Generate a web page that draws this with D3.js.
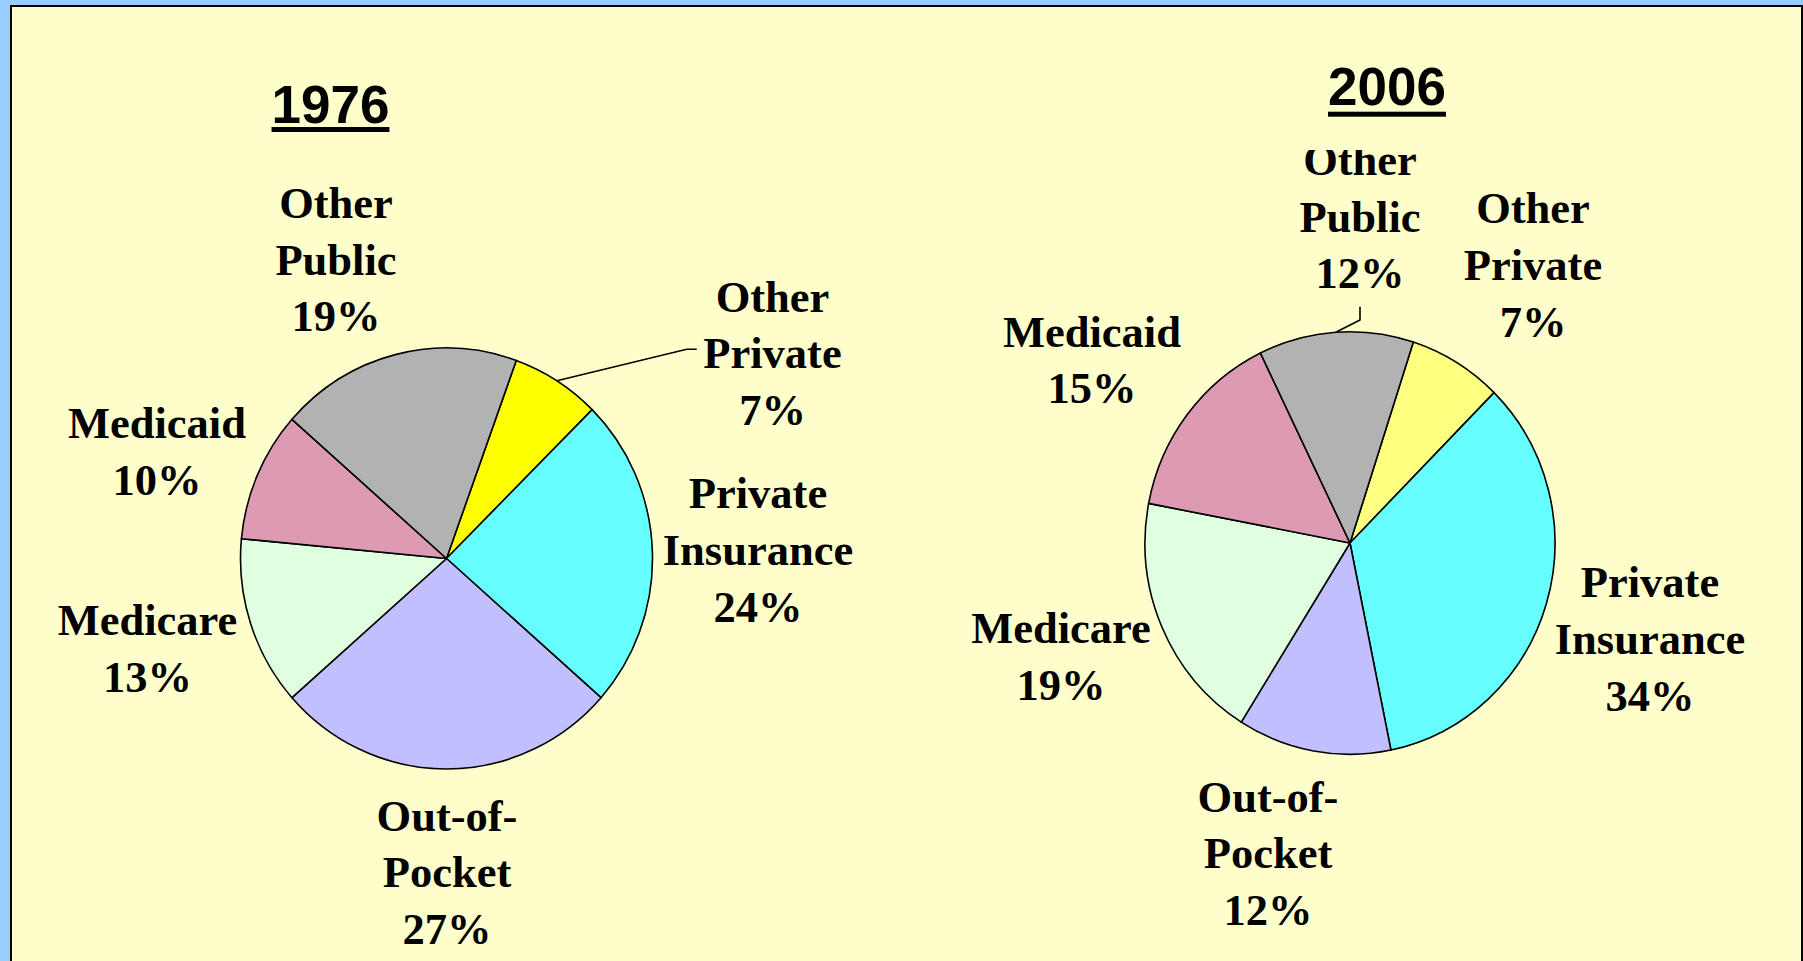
<!DOCTYPE html>
<html>
<head>
<meta charset="utf-8">
<script src="https://cdn.jsdelivr.net/npm/d3@7"></script>
<style>
    html, body { margin: 0; padding: 0; background: #99ccff; overflow: hidden; }
    svg { display: block; }
</style>
</head>
<body>
<svg id="chart"></svg>
<script>
'use strict';

// slices in clockwise order, starting with Other Private
const categories = ['Other Private', 'Private Insurance', 'Out-of-Pocket', 'Medicare', 'Medicaid', 'Other Public'];
const labelLines = [['Other', 'Private'], ['Private', 'Insurance'], ['Out-of-', 'Pocket'], ['Medicare'], ['Medicaid'], ['Other', 'Public']];
const years = ['1976', '2006'];
const shares1976 = [7, 24, 27, 13, 10, 19];
const shares2006 = [7.4, 34.4, 12.1, 19.1, 14.8, 12.2];

(function () {
    const d3 = window.d3;
    const width = 1803;
    const height = 961;
    const lineGap = 56.7;

    const colors1976 = ['#ffff00', '#66ffff', '#c0c0ff', '#e0ffe0', '#dd9ab3', '#b2b2b2'];
    const colors2006 = ['#ffff80', '#66ffff', '#c0c0ff', '#e0ffe0', '#dd9ab3', '#b2b2b2'];

    const charts = [
        {
            year: years[0], values: shares1976, colors: colors1976,
            cx: 446.5, cy: 558.5, rx: 206, ry: 210.5, start: 19.8,
            title: { x: 330.5, y: 123, uy: 127 },
            labels: [[772.5, 311.7], [758, 508.3], [447, 830.7], [147.5, 635], [157, 438.3], [336, 218]],
            leaders: { 0: [[-85.8, 37.6], [-75.8, 37.6]] },
            clip: null
        },
        {
            year: years[1], values: shares2006, colors: colors2006,
            cx: 1350, cy: 543, rx: 205, ry: 211.3, start: 18.0,
            title: { x: 1387, y: 105, uy: 111.7 },
            labels: [[1533, 223.3], [1650, 597.3], [1268, 811.7], [1061, 643.3], [1092, 346.7], [1360, 175]],
            leaders: { 5: [[0, 145], [0, 131.7]] },
            clip: { index: 5, top: 150 }
        }
    ];

    const svg = d3.select('#chart')
        .attr('width', width)
        .attr('height', height);

    const defs = svg.append('defs');

    svg.append('rect')
        .attr('width', width)
        .attr('height', height)
        .attr('fill', '#99ccff');
    svg.append('rect')
        .attr('x', 11)
        .attr('y', 6)
        .attr('width', width - 12)
        .attr('height', height + 10)
        .attr('fill', '#ffffcc')
        .attr('stroke', '#000')
        .attr('stroke-width', 2);

    charts.forEach((c, ci) => {
        const pie = d3.pie()
            .sort(null)
            .startAngle(c.start * Math.PI / 180)
            .endAngle(c.start * Math.PI / 180 + Math.PI * 2);
        const arcs = pie(c.values);

        const arc = d3.arc()
            .innerRadius(0)
            .outerRadius(c.ry);

        svg.append('g')
            .attr('transform', 'translate(' + c.cx + ',' + c.cy + ') scale(' + (c.rx / c.ry) + ',1)')
            .selectAll('path')
            .data(arcs)
            .enter().append('path')
            .attr('d', arc)
            .attr('fill', (d, i) => c.colors[i])
            .attr('stroke', '#000')
            .attr('stroke-width', 1.6)
            .attr('vector-effect', 'non-scaling-stroke')
            .attr('stroke-linejoin', 'round');

        // title, underlined
        const title = svg.append('text')
            .attr('x', c.title.x)
            .attr('y', c.title.y)
            .attr('text-anchor', 'middle')
            .attr('font-family', '"Liberation Sans", Arial, sans-serif')
            .attr('font-weight', 'bold')
            .attr('font-size', '53px')
            .attr('fill', '#000')
            .text(c.year);
        const tw = title.node().getComputedTextLength();
        svg.append('rect')
            .attr('x', c.title.x - tw / 2)
            .attr('y', c.title.uy)
            .attr('width', tw)
            .attr('height', 5)
            .attr('fill', '#000');

        if (c.clip) {
            defs.append('clipPath')
                .attr('id', 'label-clip-' + ci)
                .append('rect')
                .attr('x', 0)
                .attr('y', c.clip.top)
                .attr('width', width)
                .attr('height', height);
        }

        // leader lines
        Object.keys(c.leaders).forEach(k => {
            const i = +k;
            const a = (arcs[i].startAngle + arcs[i].endAngle) / 2;
            const pts = [[c.cx + c.rx * Math.sin(a), c.cy - c.ry * Math.cos(a)]]
                .concat(c.leaders[k].map(p => [c.labels[i][0] + p[0], c.labels[i][1] + p[1]]));
            svg.append('path')
                .attr('d', d3.line()(pts))
                .attr('fill', 'none')
                .attr('stroke', '#000')
                .attr('stroke-width', 1.6);
        });

        svg.append('g')
            .selectAll('text')
            .data(arcs)
            .enter().append('text')
            .attr('font-family', '"Liberation Serif", "Times New Roman", serif')
            .attr('font-weight', 'bold')
            .attr('font-size', '44.5px')
            .attr('fill', '#000')
            .attr('text-anchor', 'middle')
            .attr('clip-path', (d, i) => (c.clip && c.clip.index === i) ? 'url(#label-clip-' + ci + ')' : null)
            .each(function (d, i) {
                const lines = labelLines[i].concat([Math.round(d.data) + '%']);
                d3.select(this).selectAll('tspan')
                    .data(lines)
                    .enter().append('tspan')
                    .attr('x', c.labels[i][0])
                    .attr('y', (t, j) => c.labels[i][1] + j * lineGap)
                    .text(t => t);
            });
    });
}());
</script>
</body>
</html>
